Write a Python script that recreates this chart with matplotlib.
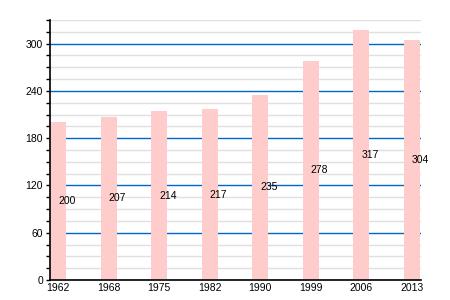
import matplotlib
matplotlib.use("Agg")
import matplotlib.pyplot as plt
from matplotlib.ticker import MultipleLocator

years = ["1962", "1968", "1975", "1982", "1990", "1999", "2006", "2013"]
population = [200, 207, 214, 217, 235, 278, 317, 304]

plt.rcParams["font.family"] = ["Liberation Sans", "DejaVu Sans"]
fontsize = 7.5

fig = plt.figure(figsize=(4.5, 3), dpi=100)
ax = fig.add_axes([50 / 450, 20 / 300, 371 / 450, 260 / 300])
ax.set_axisbelow(True)

x = list(range(len(years)))
bars = ax.bar(x, population, width=0.32, color="#ffcccc", zorder=2)

ax.set_xlim(-0.16, len(years) - 1 + 0.18)
ax.set_ylim(0, 330)
ax.set_xticks(x)
ax.set_xticklabels(years, fontsize=fontsize)
ax.yaxis.set_major_locator(MultipleLocator(60))
ax.yaxis.set_minor_locator(MultipleLocator(15))
ax.tick_params(axis="y", which="both", length=3, width=1, labelsize=fontsize, pad=2)
ax.tick_params(axis="x", length=0, pad=2)

# grid: grey minor lines, blue major lines, both behind the bars
ax.grid(axis="y", which="minor", color="#e0e0e0", linewidth=1)
ax.grid(axis="y", which="major", color="#0066cc", linewidth=1)

for s in ["top", "right"]:
    ax.spines[s].set_visible(False)
ax.spines["left"].set_linewidth(1.2)
ax.spines["bottom"].set_linewidth(1.2)
ax.spines["left"].set_zorder(4)
ax.spines["bottom"].set_zorder(4)

# values written halfway up each bar
for bar, val in zip(bars, population):
    ax.text(
        bar.get_x() + bar.get_width() / 2,
        val / 2,
        str(val),
        ha="left",
        va="center",
        fontsize=fontsize,
        zorder=3,
    )

fig.savefig("out.png", dpi=100)
